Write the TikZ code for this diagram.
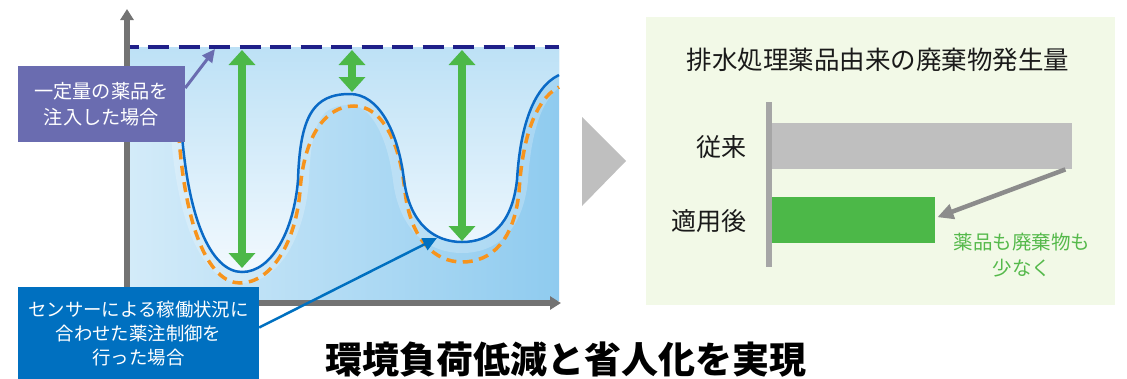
\documentclass[tikz,border=0pt]{standalone}
\usepackage{fontspec}
\setmainfont{Noto Sans CJK JP}
\usetikzlibrary{arrows.meta}
\definecolor{axisgray}{HTML}{737373}
\definecolor{navyd}{HTML}{1F2089}
\definecolor{purpbox}{HTML}{6A6CB0}
\definecolor{bluebox}{HTML}{0070C0}
\definecolor{greenA}{HTML}{4CB848}
\definecolor{orangeC}{HTML}{F7941D}
\definecolor{blueC}{HTML}{0A6AC6}
\definecolor{triGray}{HTML}{BFBFBF}
\definecolor{panelG}{HTML}{F2F9E7}
\definecolor{barGray}{HTML}{BFBFBF}
\definecolor{axGray}{HTML}{A6A6A6}
\definecolor{arrGray}{HTML}{8C8C8C}
\definecolor{noteG}{HTML}{55B94B}
\definecolor{skyTop}{HTML}{BDE1F6}
\definecolor{skyBot}{HTML}{F2F9FE}
\definecolor{seaL}{HTML}{D3EBF9}
\definecolor{seaR}{HTML}{8FCBEF}
\definecolor{inkC}{HTML}{1A1A1A}
\begin{document}
\begin{tikzpicture}[x=1pt,y=-1pt,
  lbl/.style={inner sep=0pt, text=inkC},
  boxlbl/.style={inner sep=0pt, text=white, align=center},
  barbox/.style={inner sep=0pt, anchor=north west, minimum height=46pt},
  garrow/.style={draw=greenA, line width=8pt,
    arrows={Triangle[length=15pt,width=26pt]-Triangle[length=15pt,width=26pt]}},
  axisline/.style={draw=axisgray, line width=6pt, -{Triangle[length=11pt,width=13pt]}}
]
\useasboundingbox (0,0) rectangle (1127,378);

% ---- chart background
\shade[left color=seaL, right color=seaR] (130,47) rectangle (559,300);
\shade[top color=skyTop, bottom color=skyBot]
  (130,47) -- (130,100) -- (180,100) .. controls (184,220) and (212,272) .. (242,272) .. controls (272,272) and (294,230) .. (298,180) .. controls (300,115) and (314,94) .. (350,94) .. controls (378,94) and (398,130) .. (404,180) .. controls (410,225) and (435,242) .. (462,242) .. controls (490,242) and (512,225) .. (517,180) .. controls (520,130) and (532,88) .. (559,75) -- (559,47) -- cycle;
\begin{scope}
  \clip (180,100) .. controls (184,220) and (212,272) .. (242,272) .. controls (272,272) and (294,230) .. (298,180) .. controls (300,115) and (314,94) .. (350,94) .. controls (378,94) and (398,130) .. (404,180) .. controls (410,225) and (435,242) .. (462,242) .. controls (490,242) and (512,225) .. (517,180) .. controls (520,130) and (532,88) .. (559,75) -- (559,300) -- (130,300) -- (130,100) -- cycle;
  \draw[white, opacity=0.22, line width=22pt] (180,100) .. controls (184,220) and (212,272) .. (242,272) .. controls (272,272) and (294,230) .. (298,180) .. controls (300,115) and (314,94) .. (350,94) .. controls (378,94) and (398,130) .. (404,180) .. controls (410,225) and (435,242) .. (462,242) .. controls (490,242) and (512,225) .. (517,180) .. controls (520,130) and (532,88) .. (559,75);
\end{scope}

% ---- curves
\draw[orangeC, line width=3.5pt, dash pattern=on 10pt off 6.5pt]
  (177,100) .. controls (181,231) and (210,283) .. (240,283) .. controls (272,283) and (296,241) .. (300,191) .. controls (304,135) and (326,106) .. (354,106) .. controls (382,106) and (400,142) .. (405,192) .. controls (411,240) and (435,262) .. (462,262) .. controls (492,262) and (514,240) .. (519,192) .. controls (522,142) and (534,100) .. (559,87);
\draw[blueC, line width=2.5pt]
  (180,100) .. controls (184,220) and (212,272) .. (242,272) .. controls (272,272) and (294,230) .. (298,180) .. controls (300,115) and (314,94) .. (350,94) .. controls (378,94) and (398,130) .. (404,180) .. controls (410,225) and (435,242) .. (462,242) .. controls (490,242) and (512,225) .. (517,180) .. controls (520,130) and (532,88) .. (559,75);

% ---- constant dose line
\coordinate (dl) at (130,47);
\coordinate (dr) at (559,47);
\draw[navyd, line width=4pt, dash pattern=on 21pt off 9.5pt, dash phase=12.5pt] (dl) -- (dr);

% ---- green difference arrows
\coordinate (a1t) at (242,50); \coordinate (a1b) at (242,268);
\coordinate (a2t) at (352,50); \coordinate (a2b) at (352,92);
\coordinate (a3t) at (462,50); \coordinate (a3b) at (462,241);
\draw[garrow] (a1t) -- (a1b);
\draw[garrow] (a2t) -- (a2b);
\draw[garrow] (a3t) -- (a3b);

% ---- axes
\coordinate (org) at (127,303);
\coordinate (ytip) at (127,9);
\coordinate (xtip) at (561,303);
\draw[axisline] ([yshift=-3pt]org) -- (ytip);
\draw[axisline] ([xshift=-3pt]org) -- (xtip);

% ---- label boxes
\node[boxlbl, fill=purpbox, minimum width=167pt, minimum height=76pt,
      font=\fontsize{19.2pt}{26pt}\selectfont] (pbox) at (101.5,104) {一定量の薬品を\\注入した場合};
\coordinate (ptip) at (215,49);
\draw[purpbox, line width=3pt, -{Triangle[length=13pt,width=12pt]}] ([yshift=16pt]pbox.east) -- (ptip);

\node[boxlbl, fill=bluebox, minimum width=241pt, minimum height=93pt,
      font=\fontsize{18.4pt}{24pt}\selectfont] (bbox) at (138.5,333.5) {センサーによる稼働状況に\\合わせた薬注制御を\\行った場合};
\coordinate (btip) at (437,238);
\draw[bluebox, line width=2.5pt, -{Triangle[length=14pt,width=13pt]}] ([yshift=6pt]bbox.east) -- (btip);

% ---- big arrow
\fill[triGray] (582,117) -- (582,206) -- (626,161) -- cycle;

% ---- right panel
\fill[panelG] (646,17) rectangle (1115,305);
\node[lbl, font=\fontsize{25.5pt}{28pt}\selectfont] (ptitle) at (878,60) {排水処理薬品由来の廃棄物発生量};
\draw[axGray, line width=6pt] (769,102) -- (769,267);
\node[barbox, fill=barGray, minimum width=300pt] (gbar) at (772,123) {};
\node[barbox, fill=greenA, minimum width=163pt] (abar) at (772,197) {};
\node[lbl, anchor=east, font=\fontsize{25pt}{28pt}\selectfont] (lab1) at (747,147) {従来};
\node[lbl, anchor=east, font=\fontsize{25pt}{28pt}\selectfont] (lab2) at (747,221) {適用後};
\draw[arrGray, line width=4.5pt, -{Triangle[length=16pt,width=15pt]}] ([xshift=-7pt]gbar.south east) -- ([xshift=2pt,yshift=3pt]abar.east);
\node[lbl, text=noteG, align=center, font=\fontsize{19.5pt}{26pt}\selectfont] (note) at (1022,255) {薬品も廃棄物も\\少なく};

% ---- headline
\node[inner sep=0pt, anchor=base, text=black, font=\bfseries\fontsize{37pt}{40pt}\selectfont] (head) at (565.5,373) {環境負荷低減と省人化を実現};
\end{tikzpicture}
\end{document}
